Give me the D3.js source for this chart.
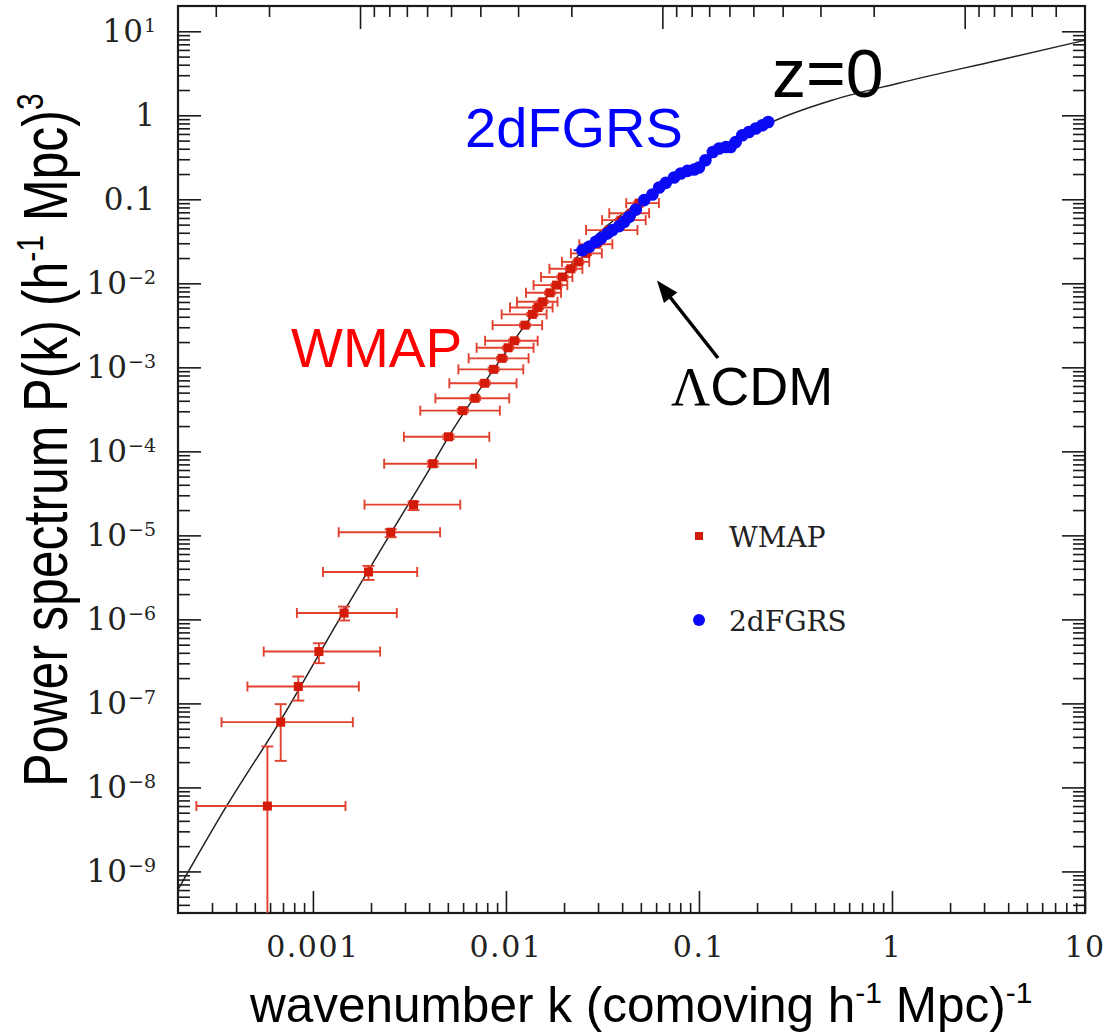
<!DOCTYPE html>
<html><head><meta charset="utf-8">
<script src="https://cdn.jsdelivr.net/npm/d3@7"></script>
<style>body{margin:0;background:#fff} svg{display:block}</style>
</head><body><svg id="c" width="1111" height="1034"></svg>
<script>
// ---- data ----
const curveK = [2.0e-4, 3.56e-4, 6.73e-4, 1.43e-3, 2.55e-3, 4.18e-3, 5.04e-3, 8.64e-3, 1.256e-2, 1.965e-2, 2.49e-2, 5.09e-2, 0.1041, 0.240, 0.490, 1.08, 3.57, 10];
const curveP = [6.06e-10, 5.93e-9, 6.04e-8, 1.19e-6, 1.09e-5, 7.13e-5, 1.49e-4, 9.47e-4, 3.18e-3, 1.19e-2, 2.48e-2, 9.77e-2, 0.267, 0.834, 1.51, 2.41, 4.52, 7.82];

const wmapK   = [5.81e-4, 6.81e-4, 8.4e-4, 1.074e-3, 1.45e-3, 1.94e-3, 2.53e-3, 3.32e-3, 4.18e-3, 5.04e-3, 5.97e-3, 6.92e-3, 7.76e-3, 8.64e-3, 9.55e-3, 1.026e-2, 1.105e-2, 1.256e-2, 1.37e-2, 1.466e-2, 1.55e-2, 1.69e-2, 1.83e-2, 1.965e-2, 2.17e-2, 2.37e-2, 2.6e-2, 2.94e-2, 3.43e-2, 3.95e-2, 4.46e-2, 4.9e-2];
const wmapP   = [6.0e-9, 5.98e-8, 1.59e-7, 4.14e-7, 1.19e-6, 3.67e-6, 1.09e-5, 2.32e-5, 7.13e-5, 1.49e-4, 3.05e-4, 4.28e-4, 6.46e-4, 9.47e-4, 1.28e-3, 1.71e-3, 2.07e-3, 3.18e-3, 4.27e-3, 5.16e-3, 6.03e-3, 7.71e-3, 9.52e-3, 1.19e-2, 1.49e-2, 1.80e-2, 2.27e-2, 2.92e-2, 4.3e-2, 5.65e-2, 6.84e-2, 9.0e-2];
const wmapKLo = [2.49e-4, 3.36e-4, 4.58e-4, 5.56e-4, 8.26e-4, 1.127e-3, 1.36e-3, 1.85e-3, 2.34e-3, 2.96e-3, 3.6e-3, 4.31e-3, 5.09e-3, 5.67e-3, 6.41e-3, 7.05e-3, 7.8e-3, 8.53e-3, 9.5e-3, 1.05e-2, 1.14e-2, 1.27e-2, 1.39e-2, 1.52e-2, 1.68e-2, 1.95e-2, 2.17e-2, 2.4e-2, 2.6e-2, 3.15e-2, 3.43e-2, 4.2e-2];
const wmapKHi = [1.475e-3, 1.61e-3, 1.73e-3, 2.23e-3, 2.72e-3, 3.47e-3, 4.56e-3, 5.8e-3, 7.0e-3, 8.2e-3, 9.3e-3, 1.04e-2, 1.135e-2, 1.23e-2, 1.31e-2, 1.39e-2, 1.46e-2, 1.54e-2, 1.625e-2, 1.745e-2, 1.85e-2, 1.93e-2, 2.08e-2, 2.21e-2, 2.49e-2, 2.7e-2, 3.14e-2, 3.56e-2, 4.8e-2, 5.3e-2, 5.52e-2, 6.2e-2];
const wmapPLo = [1e-12, 2.07e-8, 1.08e-7, 3.01e-7, 9.7e-7, 2.95e-6, 9.5e-6, 2.0e-5, 6.6e-5, 1.4e-4, 2.9e-4, 4.1e-4, 6.2e-4, 9.1e-4, 1.23e-3, 1.64e-3, 1.99e-3, 3.05e-3, 4.1e-3, 4.95e-3, 5.8e-3, 7.4e-3, 9.1e-3, 1.14e-2, 1.43e-2, 1.72e-2, 2.17e-2, 2.78e-2, 4.1e-2, 5.4e-2, 6.5e-2, 8.6e-2];
const wmapPHi = [3.07e-8, 9.8e-8, 2.09e-7, 5.2e-7, 1.42e-6, 4.33e-6, 1.18e-5, 2.52e-5, 7.6e-5, 1.58e-4, 3.2e-4, 4.5e-4, 6.8e-4, 9.9e-4, 1.33e-3, 1.78e-3, 2.16e-3, 3.31e-3, 4.45e-3, 5.38e-3, 6.3e-3, 8.0e-3, 9.9e-3, 1.24e-2, 1.56e-2, 1.88e-2, 2.37e-2, 3.06e-2, 4.5e-2, 5.9e-2, 7.2e-2, 9.4e-2];

const sdssK = [0.02493, 0.0270, 0.02924, 0.03105, 0.0336, 0.0356, 0.0386, 0.041, 0.0435, 0.0471, 0.052, 0.0574, 0.0622, 0.0673, 0.0743, 0.0805, 0.0871, 0.0945, 0.1, 0.108, 0.118, 0.127, 0.138, 0.146, 0.155, 0.1677, 0.1815, 0.197, 0.213, 0.2286];
const sdssP = [0.0248, 0.0272, 0.0312, 0.0342, 0.0393, 0.043, 0.048, 0.054, 0.0618, 0.0757, 0.0977, 0.114, 0.138, 0.157, 0.182, 0.203, 0.218, 0.226, 0.239, 0.292, 0.366, 0.403, 0.42, 0.42, 0.482, 0.579, 0.634, 0.697, 0.762, 0.834];
const sdssKErr = [0.10, 0.10, 0.10, 0.09, 0.09, 0.09, 0.08, 0.08, 0.08, 0.07, 0.07, 0.07, 0.06, 0.06, 0.06, 0.06, 0.05, 0.05, 0.05, 0.05, 0.05, 0.05, 0.04, 0.04, 0.04, 0.04, 0.04, 0.04, 0.04, 0.04];

const xMajor = [0.001, 0.01, 0.1, 1, 10];
const xMajorLabels = ["0.001", "0.01", "0.1", "1", "10"];
const yMajor = [10, 1, 0.1, 1e-2, 1e-3, 1e-4, 1e-5, 1e-6, 1e-7, 1e-8, 1e-9];
const yMajorBase = ["10", "1", "0.1", "10", "10", "10", "10", "10", "10", "10", "10"];
const yMajorExp  = ["1", "", "", "−2", "−3", "−4", "−5", "−6", "−7", "−8", "−9"];
const topMajor = [1000, 100, 10];

// ---- layout ----
const L = 178, T = 6, W = 907, H = 907;
const svg = d3.select("#c");
svg.append("rect").attr("width", 1111).attr("height", 1034).attr("fill", "#fff");

const x = d3.scaleLog().domain([2e-4, 10]).range([L, L + W]);
const y = d3.scaleLog().domain([3.2e-10, 20]).range([T + H, T]);
const xTop = d3.scaleLog().domain([4000, 4]).range([L, L + W]);

function minorTicks(scale) {
  const [a, b] = d3.extent(scale.domain());
  const out = [];
  for (let e = Math.floor(Math.log10(a)); e <= Math.ceil(Math.log10(b)); e++) {
    for (let m = 2; m <= 9; m++) {
      const v = m * Math.pow(10, e);
      if (v > a * 1.0001 && v < b * 0.9999) out.push(v);
    }
  }
  return out;
}
const xMinor = minorTicks(x), yMinor = minorTicks(y), topMinor = minorTicks(xTop);

svg.append("defs").append("clipPath").attr("id", "clip")
  .append("rect").attr("x", L).attr("y", T).attr("width", W).attr("height", H);

const axStroke = "#1a1a1a";
function styleAxis(g) {
  g.select(".domain").remove();
  g.selectAll("line").attr("stroke", axStroke).attr("stroke-width", 1.6);
}
// bottom
svg.append("g").attr("transform", `translate(0,${T + H})`)
  .call(d3.axisBottom(x).tickValues(xMinor).tickSize(-10).tickFormat("")).call(styleAxis);
svg.append("g").attr("transform", `translate(0,${T + H})`)
  .call(d3.axisBottom(x).tickValues(xMajor).tickSize(-22).tickFormat("")).call(styleAxis);
// top
svg.append("g").attr("transform", `translate(0,${T})`)
  .call(d3.axisTop(xTop).tickValues(topMinor).tickSize(-11).tickFormat("")).call(styleAxis);
svg.append("g").attr("transform", `translate(0,${T})`)
  .call(d3.axisTop(xTop).tickValues(topMajor).tickSize(-23).tickFormat("")).call(styleAxis);
// left
svg.append("g").attr("transform", `translate(${L},0)`)
  .call(d3.axisLeft(y).tickValues(yMinor).tickSize(-12).tickFormat("")).call(styleAxis);
svg.append("g").attr("transform", `translate(${L},0)`)
  .call(d3.axisLeft(y).tickValues(yMajor).tickSize(-23).tickFormat("")).call(styleAxis);
// right
svg.append("g").attr("transform", `translate(${L + W},0)`)
  .call(d3.axisRight(y).tickValues(yMinor).tickSize(-12).tickFormat("")).call(styleAxis);
svg.append("g").attr("transform", `translate(${L + W},0)`)
  .call(d3.axisRight(y).tickValues(yMajor).tickSize(-23).tickFormat("")).call(styleAxis);

svg.append("rect").attr("x", L).attr("y", T).attr("width", W).attr("height", H)
  .attr("fill", "none").attr("stroke", axStroke).attr("stroke-width", 2.2);

// tick labels
const tickFont = "'DejaVu Serif', serif";
svg.append("g").selectAll("text").data(xMajor).join("text")
  .attr("x", d => x(d)).attr("y", 957)
  .attr("text-anchor", "middle").attr("font-family", tickFont).attr("font-size", 30)
  .attr("letter-spacing", 1.5).attr("fill", "#222")
  .text((d, i) => xMajorLabels[i]);

const yl = svg.append("g").selectAll("text").data(yMajor).join("text")
  .attr("x", 156).attr("y", d => y(d) + 11)
  .attr("text-anchor", "end").attr("font-family", tickFont).attr("font-size", 31)
  .attr("letter-spacing", 1).attr("fill", "#222");
yl.each(function(d, i) {
  const t = d3.select(this);
  t.append("tspan").text(yMajorBase[i]);
  if (yMajorExp[i]) t.append("tspan").attr("dy", -10).attr("font-size", 19).attr("letter-spacing", 0).text(yMajorExp[i]);
});

// model curve
const plot = svg.append("g").attr("clip-path", "url(#clip)");
const curveData = curveK.map((k, i) => ({k, p: curveP[i]}));
plot.append("path").datum(curveData)
  .attr("fill", "none").attr("stroke", "#222").attr("stroke-width", 1.5)
  .attr("d", d3.line().x(d => x(d.k)).y(d => y(d.p)).curve(d3.curveMonotoneX));

// WMAP
const wmap = wmapK.map((k, i) => ({k, p: wmapP[i], kl: wmapKLo[i], kh: wmapKHi[i], pl: wmapPLo[i], ph: wmapPHi[i]}));
const errC = "#e2412e";
const wg = plot.append("g").attr("stroke", errC).attr("stroke-width", 1.9).attr("fill", "none");
wmap.forEach(d => {
  const cx = x(d.k), cy = y(d.p);
  wg.append("line").attr("x1", x(d.kl)).attr("x2", x(d.kh)).attr("y1", cy).attr("y2", cy);
  wg.append("line").attr("x1", x(d.kl)).attr("x2", x(d.kl)).attr("y1", cy - 5).attr("y2", cy + 5);
  wg.append("line").attr("x1", x(d.kh)).attr("x2", x(d.kh)).attr("y1", cy - 5).attr("y2", cy + 5);
  const y1 = Math.min(y(d.pl), T + H + 5), y2 = y(d.ph);
  wg.append("line").attr("x1", cx).attr("x2", cx).attr("y1", y1).attr("y2", y2);
  if (y1 < T + H) wg.append("line").attr("x1", cx - 6).attr("x2", cx + 6).attr("y1", y1).attr("y2", y1);
  wg.append("line").attr("x1", cx - 6).attr("x2", cx + 6).attr("y1", y2).attr("y2", y2);
});
plot.append("g").selectAll("rect").data(wmap).join("rect")
  .attr("x", d => x(d.k) - 4.5).attr("y", d => y(d.p) - 4.5).attr("width", 9).attr("height", 9)
  .attr("fill", "#d41a08");

// 2dFGRS
const sd = sdssK.map((k, i) => ({k, p: sdssP[i], e: sdssKErr[i]}));
const bg = plot.append("g").attr("stroke", "#1a2cf0").attr("stroke-width", 2.2);
sd.forEach(d => {
  const cy = y(d.p);
  bg.append("line").attr("x1", x(d.k * (1 - d.e))).attr("x2", x(d.k * (1 + d.e))).attr("y1", cy).attr("y2", cy);
});
plot.append("g").selectAll("circle").data(sd).join("circle")
  .attr("cx", d => x(d.k)).attr("cy", d => y(d.p)).attr("r", 6.3).attr("fill", "#0a0af5");

// legend
svg.append("rect").attr("x", 695).attr("y", 532).attr("width", 8).attr("height", 8).attr("fill", "#d41a08");
svg.append("circle").attr("cx", 699).attr("cy", 620).attr("r", 6).attr("fill", "#0a0af5");
svg.append("text").attr("x", 729).attr("y", 547).attr("font-family", tickFont).attr("font-size", 28).attr("fill", "#222").text("WMAP");
svg.append("text").attr("x", 729).attr("y", 631).attr("font-family", tickFont).attr("font-size", 28).attr("fill", "#222").text("2dFGRS");

// annotations
const sans = "'Liberation Sans', Arial, sans-serif";
svg.append("text").attr("x", 291).attr("y", 367).attr("font-family", sans).attr("font-size", 55).attr("fill", "#ff0000").text("WMAP");
svg.append("text").attr("x", 465).attr("y", 147).attr("font-family", sans).attr("font-size", 56).attr("fill", "#0000ff").text("2dFGRS");
svg.append("text").attr("x", 772).attr("y", 97).attr("font-family", sans).attr("font-size", 68).attr("fill", "#000").text("z=0");
const lt = svg.append("text").attr("x", 671).attr("y", 405).attr("font-family", sans).attr("font-size", 54).attr("fill", "#000");
lt.append("tspan").attr("font-family", "'Liberation Serif', serif").text("Λ");
lt.append("tspan").text("CDM");

// arrow
svg.append("line").attr("x1", 718).attr("y1", 358).attr("x2", 666).attr("y2", 292)
  .attr("stroke", "#000").attr("stroke-width", 3.5);
(function() {
  const tip = [657, 280.5], ang = Math.atan2(358 - 280.5, 718 - 657);
  const len = 22, hw = 8.5;
  const bx = tip[0] + len * Math.cos(ang), by = tip[1] + len * Math.sin(ang);
  const px = -Math.sin(ang), py = Math.cos(ang);
  svg.append("path").attr("d", `M${tip[0]},${tip[1]}L${bx + hw * px},${by + hw * py}L${bx - hw * px},${by - hw * py}Z`).attr("fill", "#000");
})();

// axis titles
const xt = svg.append("text").attr("x", 250).attr("y", 1022).attr("font-family", sans).attr("font-size", 49.5).attr("fill", "#000");
xt.append("tspan").text("wavenumber k (comoving h");
xt.append("tspan").attr("dy", -19).attr("font-size", 30).text("-1");
xt.append("tspan").attr("dy", 19).text(" Mpc)");
xt.append("tspan").attr("dy", -19).attr("font-size", 30).text("-1");

const ytl = svg.append("text").attr("transform", "translate(67,440) rotate(-90) scale(1,1.25)")
  .attr("text-anchor", "middle").attr("font-family", sans).attr("font-size", 50).attr("fill", "#000");
ytl.append("tspan").text("Power spectrum P(k) (h");
ytl.append("tspan").attr("dy", -19).attr("font-size", 30).text("-1");
ytl.append("tspan").attr("dy", 19).text(" Mpc)");
ytl.append("tspan").attr("dy", -19).attr("font-size", 30).text("3");
</script></body></html>
